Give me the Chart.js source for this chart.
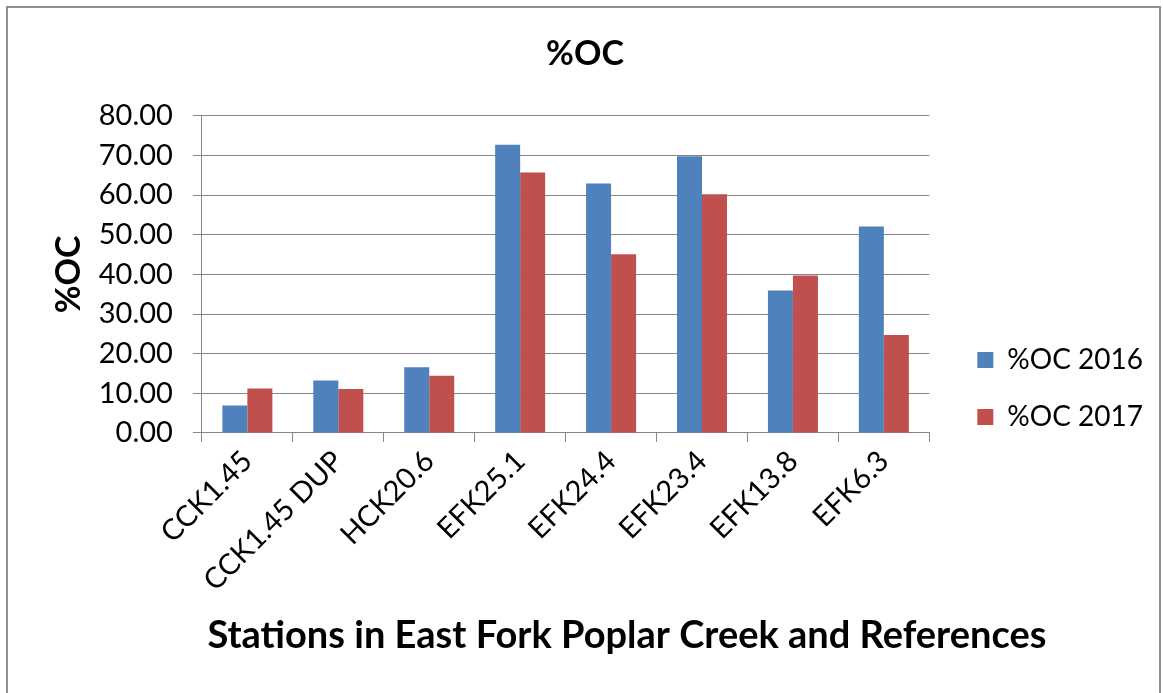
<!DOCTYPE html>
<html>
<head>
<meta charset="utf-8">
<script src="https://cdn.jsdelivr.net/npm/chart.js@4/dist/chart.umd.min.js"></script>
<style>
  html, body { margin: 0; padding: 0; background: #ffffff; }
  #wrap { width: 1163px; height: 693px; position: relative; }
</style>
</head>
<body>
<div id="wrap"><canvas id="c" width="1163" height="693"></canvas></div>
<script>
const categories = ["CCK1.45", "CCK1.45 DUP", "HCK20.6", "EFK25.1", "EFK24.4", "EFK23.4", "EFK13.8", "EFK6.3"];
const oc2016 = [6.9, 13.2, 16.6, 72.7, 62.9, 69.8, 35.9, 52.1];
const oc2017 = [11.2, 11.1, 14.4, 65.7, 45.1, 60.2, 39.7, 24.7];
const seriesNames = ["%OC 2016", "%OC 2017"];
const yTicks = [0, 10, 20, 30, 40, 50, 60, 70, 80];
const chartTitle = "%OC";
const yTitle = "%OC";
const xTitle = "Stations in East Fork Poplar Creek and References";

const FONT = "Lato, 'Open Sans', sans-serif";
const GRID = "#868686";

const framePlugin = {
  id: 'frame',
  beforeDraw(chart) {
    const ctx = chart.ctx;
    ctx.save();
    ctx.fillStyle = '#ffffff';
    ctx.fillRect(0, 0, chart.width, chart.height);
    ctx.strokeStyle = '#8f8f8f';
    ctx.lineWidth = 2;
    ctx.beginPath();
    ctx.moveTo(7, chart.height + 5);
    ctx.lineTo(7, 7);
    ctx.lineTo(1160, 7);
    ctx.lineTo(1160, chart.height + 5);
    ctx.stroke();
    ctx.restore();
  }
};

// Move the legend a little further away from the plot area (Excel-like gap)
const legendGapPlugin = {
  id: 'legendGap',
  afterLayout(chart) {
    const l = chart.legend;
    if (l) { l.left += 19; l.right += 19; }
  }
};

const xTitlePlugin = {
  id: 'xTitle',
  afterDraw(chart) {
    const ctx = chart.ctx;
    const a = chart.chartArea;
    ctx.save();
    ctx.fillStyle = '#000';
    ctx.font = "bold 38px " + FONT;
    ctx.textAlign = 'center';
    ctx.textBaseline = 'middle';
    ctx.fillText(xTitle, a.left + 425, a.bottom + 203);
    ctx.restore();
  }
};

new Chart(document.getElementById('c'), {
  type: 'bar',
  data: {
    labels: categories,
    datasets: [
      { label: seriesNames[0], data: oc2016, backgroundColor: '#4F81BD', borderWidth: 0 },
      { label: seriesNames[1], data: oc2017, backgroundColor: '#C0504D', borderWidth: 0 }
    ]
  },
  options: {
    responsive: false,
    animation: false,
    devicePixelRatio: 1,
    datasets: { bar: { categoryPercentage: 0.55, barPercentage: 1.0 } },
    layout: { padding: { top: 8, left: 36, right: 29, bottom: 93 } },
    plugins: {
      title: {
        display: true,
        text: chartTitle,
        color: '#000',
        font: { family: FONT, size: 34, weight: 'bold' },
        padding: { top: 26, bottom: 41 }
      },
      legend: {
        display: true,
        position: 'right',
        align: 'center',
        title: { display: true, text: ' ', font: { family: FONT, size: 10 }, padding: { top: 157, bottom: 0 } },
        labels: {
          color: '#000',
          font: { family: FONT, size: 28 },
          boxWidth: 16,
          boxHeight: 16,
          padding: 29
        }
      },
      tooltip: { enabled: false }
    },
    scales: {
      x: {
        offset: true,
        afterFit(scale) { scale.paddingLeft = 0; scale.paddingRight = 0; },
        grid: { display: true, drawOnChartArea: false, drawTicks: true, tickLength: 9, color: GRID, offset: true },
        border: { display: true, color: GRID, width: 1 },
        ticks: { color: '#000', font: { family: FONT, size: 29 }, minRotation: 45, maxRotation: 45, padding: 2 }
      },
      y: {
        min: 0,
        max: 80,
        afterBuildTicks(scale) { scale.ticks = yTicks.map(v => ({ value: v })); },
        grid: { color: GRID, lineWidth: 1, drawTicks: true, tickLength: 9 },
        border: { display: true, color: GRID, width: 1 },
        ticks: {
          color: '#000',
          font: { family: FONT, size: 29 },
          padding: 20,
          callback: v => Number(v).toFixed(2)
        },
        title: {
          display: true,
          text: yTitle,
          color: '#000',
          font: { family: FONT, size: 34, weight: 'bold' },
          padding: { top: 13, bottom: -11 }
        }
      }
    }
  },
  plugins: [framePlugin, legendGapPlugin, xTitlePlugin]
});
</script>
</body>
</html>
